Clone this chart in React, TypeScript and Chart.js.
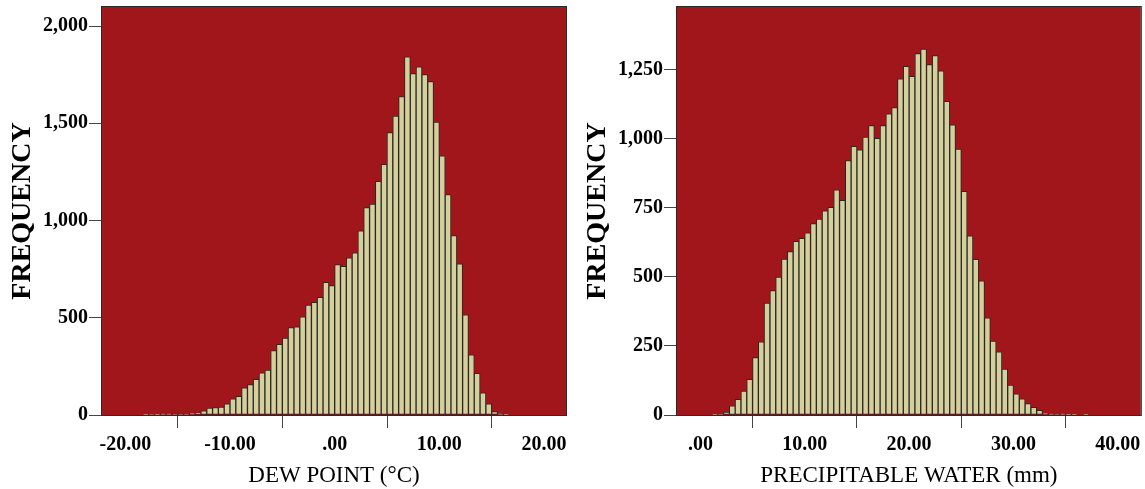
import React, { useEffect, useRef } from 'react';
import { Chart, registerables } from 'chart.js';

Chart.register(...registerables);

// ---- data ----
const binWidth = 10 / 18;

const dewBinStart = -20;
const dewCounts = [
  0, 0, 0, 1, 3, 1, 7, 7, 5, 5, 5, 9, 11, 22, 35, 38, 41, 58,
  83, 96, 140, 157, 183, 217, 231, 331, 363, 396, 450, 453, 505, 565, 579, 605, 682, 665,
  773, 765, 808, 834, 947, 1066, 1084, 1201, 1289, 1452, 1537, 1638, 1842, 1755, 1790, 1750, 1714, 1506,
  1333, 1134, 923, 777, 515, 310, 214, 114, 57, 17, 7, 2,
];
const dewTicksX = [-20, -10, 0, 10, 20];
const dewTicksY = [0, 500, 1000, 1500, 2000];

const pwBinStart = 0;
const pwCounts = [
  0, 0, 1, 2, 11, 33, 57, 87, 129, 208, 265, 405, 451, 500, 565, 592, 629, 640,
  660, 693, 710, 740, 752, 816, 778, 922, 973, 961, 1007, 1048, 1002, 1048, 1091, 1114, 1218, 1263,
  1227, 1309, 1326, 1269, 1302, 1247, 1136, 1051, 963, 810, 649, 564, 486, 352, 268, 229, 166, 108,
  77, 59, 41, 28, 17, 6, 4, 2, 5, 1, 1, 0, 1,
];
const pwTicksX = [0, 10, 20, 30, 40];
const pwTicksY = [0, 250, 500, 750, 1000, 1250];

// ---- styles ----
const SERIF = '"Liberation Serif", "Times New Roman", serif';
const PLOT_RED = 'rgb(161, 22, 27)';
const BAR_FILL = 'rgb(212, 207, 155)';
const BAR_EDGE = 'rgb(40, 40, 40)';
const H = 489;

const fmtX = (v: number) => (v === 0 ? '.00' : v.toFixed(2));
const fmtY = (v: number) => v.toLocaleString('en-US');

const plotFrame = {
  id: 'plotFrame',
  beforeDatasetsDraw(chart: any) {
    const { ctx, chartArea: a } = chart;
    ctx.save();
    ctx.fillStyle = PLOT_RED;
    ctx.fillRect(a.left, a.top, a.right - a.left, a.bottom - a.top);
    ctx.restore();
  },
  afterDatasetsDraw(chart: any) {
    const { ctx, chartArea: a } = chart;
    ctx.save();
    ctx.strokeStyle = '#2a2a2a';
    ctx.lineWidth = 1;
    ctx.strokeRect(a.left - 0.5, a.top - 0.5, a.right - a.left + 1, a.bottom - a.top + 1);
    ctx.restore();
  },
};

type Spec = {
  counts: number[];
  start: number;
  xMin: number;
  xMax: number;
  yMax: number;
  xTicks: number[];
  yTicks: number[];
  xTitle: string;
  yAxisWidth: number;
  rightPad: number;
  yTitlePad: number;
};

function buildConfig(s: Spec): any {
  const data = s.counts.map((c, i) => ({ x: s.start + (i + 0.5) * binWidth, y: c }));
  return {
    type: 'bar',
    data: {
      datasets: [
        {
          data,
          backgroundColor: BAR_FILL,
          borderColor: BAR_EDGE,
          borderWidth: 1,
          borderSkipped: false,
          barPercentage: 1,
          categoryPercentage: 1,
        },
      ],
    },
    options: {
      responsive: false,
      animation: false,
      events: [],
      layout: { padding: { left: 0, right: s.rightPad, top: 7, bottom: 0 } },
      plugins: { legend: { display: false }, tooltip: { enabled: false } },
      scales: {
        x: {
          type: 'linear',
          min: s.xMin,
          max: s.xMax,
          offset: false,
          afterBuildTicks: (axis: any) => {
            axis.ticks = s.xTicks.map((v) => ({ value: v }));
          },
          afterFit: (axis: any) => {
            axis.height = H - 415;
          },
          grid: { display: true, drawOnChartArea: false, drawTicks: true, tickLength: 13, color: '#444', lineWidth: 1 },
          border: { display: false },
          ticks: {
            autoSkip: false,
            maxRotation: 0,
            padding: 4.5,
            color: '#000',
            font: { family: SERIF, size: 20, weight: 'bold' },
            callback: (v: any) => fmtX(Number(v)),
          },
          title: {
            display: true,
            text: s.xTitle,
            color: '#000',
            font: { family: SERIF, size: 23, weight: 'normal', lineHeight: 1 },
            padding: { top: 0, bottom: 2 },
          },
        },
        y: {
          type: 'linear',
          min: 0,
          max: s.yMax,
          afterBuildTicks: (axis: any) => {
            axis.ticks = s.yTicks.map((v) => ({ value: v }));
          },
          afterFit: (axis: any) => {
            axis.width = s.yAxisWidth;
          },
          grid: { display: true, drawOnChartArea: false, drawTicks: true, tickLength: 13, color: '#444', lineWidth: 1 },
          border: { display: false },
          ticks: {
            autoSkip: false,
            padding: 1,
            color: '#000',
            font: { family: SERIF, size: 20, weight: 'bold', lineHeight: 0.5 },
            callback: (v: any) => fmtY(Number(v)),
          },
          title: {
            display: true,
            text: 'FREQUENCY',
            color: '#000',
            font: { family: SERIF, size: 28, weight: 'bold', lineHeight: 1 },
            padding: { top: s.yTitlePad, bottom: 0 },
          },
        },
      },
    },
    plugins: [plotFrame],
  };
}

const dewSpec: Spec = {
  counts: dewCounts,
  start: dewBinStart,
  xMin: -22.23,
  xMax: 22.1,
  yMax: 2098,
  xTicks: dewTicksX,
  yTicks: dewTicksY,
  xTitle: 'DEW POINT (°C)',
  yAxisWidth: 102,
  rightPad: 6,
  yTitlePad: 8.5,
};

const pwSpec: Spec = {
  counts: pwCounts,
  start: pwBinStart,
  xMin: -2.24,
  xMax: 42.2,
  yMax: 1478,
  xTicks: pwTicksX,
  yTicks: pwTicksY,
  xTitle: 'PRECIPITABLE WATER (mm)',
  yAxisWidth: 105,
  rightPad: 3,
  yTitlePad: 12,
};

function Histogram({ spec, left, width }: { spec: Spec; left: number; width: number }) {
  const ref = useRef<HTMLCanvasElement>(null);
  useEffect(() => {
    const chart = new Chart(ref.current as HTMLCanvasElement, buildConfig(spec));
    return () => chart.destroy();
  }, [spec]);
  return (
    <canvas
      ref={ref}
      width={width}
      height={H}
      style={{ position: 'absolute', left, top: 0, width, height: H, display: 'block' }}
    />
  );
}

export default function App() {
  return (
    <div style={{ position: 'fixed', left: 0, top: 0, width: 1145, height: H, background: '#fff', overflow: 'hidden' }}>
      <Histogram spec={dewSpec} left={0} width={572} />
      <Histogram spec={pwSpec} left={572} width={573} />
    </div>
  );
}
